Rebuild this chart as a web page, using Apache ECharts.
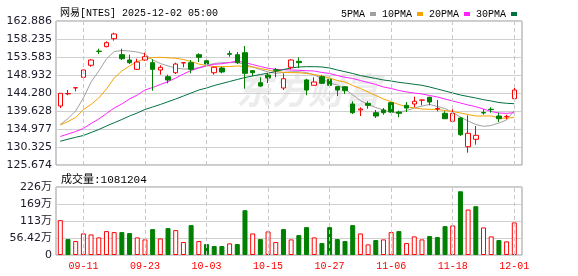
<!DOCTYPE html>
<html>
<head>
<meta charset="utf-8">
<script src="https://cdn.jsdelivr.net/npm/echarts@6.0.0/dist/echarts.min.js"></script>
<style>
  html, body { margin: 0; padding: 0; background: #fff; }
  #chart { width: 578px; height: 276px; }
</style>
</head>
<body>
<div id="chart"></div>
<script>
// trading days shown on the chart
var dates = ['09-08','09-09','09-10','09-11','09-12','09-15','09-16','09-17','09-18','09-19',
  '09-22','09-23','09-24','09-25','09-26','09-29','09-30','10-01','10-02','10-03',
  '10-06','10-07','10-08','10-09','10-10','10-13','10-14','10-15','10-16','10-17',
  '10-20','10-21','10-22','10-23','10-24','10-27','10-28','10-29','10-30','10-31',
  '11-03','11-04','11-05','11-06','11-07','11-10','11-11','11-12','11-13','11-14',
  '11-17','11-18','11-19','11-20','11-21','11-24','11-25','11-26','11-28','12-01']
var dateTicks = ['09-11','09-23','10-03','10-15','10-27','11-06','11-18','12-01']

var open = [140.92,144.05,145.60,148.34,151.44,155.10,156.25,158.31,154.18,152.81,
  150.40,152.81,152.11,150.22,148.49,149.52,152.05,152.11,154.18,152.63,
  149.52,150.74,154.45,154.18,154.69,150.04,146.94,148.93,150.30,145.57,
  150.92,152.47,147.64,146.27,148.49,147.82,145.91,145.91,141.44,139.89,
  141.62,139.19,139.89,141.77,139.37,141.10,141.44,142.42,143.17,140.17,
  139.03,136.97,137.82,130.40,132.32,139.24,140.09,138.34,138.13,142.81]
var close = [144.20,144.15,145.65,150.22,152.81,155.02,157.28,159.53,153.14,152.11,
  152.29,153.66,150.40,150.92,147.64,151.77,152.11,150.40,153.50,151.77,
  150.92,149.71,154.28,152.11,149.37,149.52,146.09,148.16,150.15,147.97,
  152.81,152.11,145.05,147.12,146.79,146.27,145.05,144.87,139.19,140.15,
  141.10,138.34,139.19,139.37,139.03,140.40,142.14,142.47,141.95,140.27,
  137.63,139.03,133.50,133.87,133.35,139.11,139.99,137.63,138.23,145.05]
var low = [140.40,143.69,144.72,147.82,151.08,154.36,156.09,157.80,152.81,151.77,
  150.22,152.63,144.87,149.01,146.79,149.19,150.92,149.37,152.29,151.26,
  149.01,149.37,153.66,151.77,145.39,148.67,145.91,146.86,148.34,145.05,
  150.40,150.74,143.69,146.27,146.61,145.91,143.50,144.02,138.85,138.34,
  140.22,137.82,138.67,139.19,138.00,139.37,140.58,141.10,141.10,139.55,
  137.63,136.97,133.17,128.85,130.92,138.67,139.19,136.79,137.48,142.47]
var high = [144.20,145.05,145.70,150.30,152.99,155.73,157.64,159.86,155.73,154.18,
  153.14,154.69,152.99,151.44,149.01,152.11,152.15,152.81,154.54,152.99,
  151.08,151.08,155.21,154.87,156.43,150.22,148.34,149.45,150.74,149.37,
  152.99,153.50,147.97,148.34,148.85,148.49,146.00,146.09,142.14,140.58,
  142.14,139.89,140.40,141.95,139.71,141.95,143.33,142.52,143.33,142.47,
  139.55,140.07,138.00,138.52,135.75,140.07,140.58,139.19,138.67,146.61]

var ma5 = [136.14,137.69,139.63,142.99,147.12,149.96,153.07,155.00,155.26,155.13,
  154.87,154.36,152.81,151.90,151.26,150.74,150.48,150.48,150.87,151.39,
  151.90,152.11,152.11,152.16,151.64,151.00,150.35,149.71,149.37,149.58,
  149.78,149.78,149.58,148.93,148.03,146.86,146.35,145.31,143.76,142.34,
  141.31,140.53,139.89,139.24,139.19,139.76,140.40,140.92,141.31,140.79,
  140.27,139.24,138.08,137.04,136.14,135.67,135.88,136.53,137.30,139.76]
var ma10 = [136.01,136.91,137.95,140.02,141.31,142.99,145.31,148.16,149.96,151.26,
  152.42,153.07,153.45,153.51,153.38,153.25,152.94,152.42,151.77,151.39,
  151.13,151.08,151.13,151.26,151.13,151.00,150.61,150.22,149.84,149.63,
  149.53,149.53,149.32,149.06,148.67,148.16,147.51,147.12,146.22,145.44,
  144.54,143.63,142.73,142.03,141.31,140.74,140.40,140.14,140.07,140.02,
  139.76,139.50,139.11,138.72,138.34,138.34,138.34,137.82,137.74,138.00]
var ma20 = [133.04,133.68,134.33,135.11,136.40,137.56,138.98,140.40,141.44,142.73,
  143.76,145.05,145.70,146.48,147.20,148.16,149.19,150.09,150.74,151.26,
  151.70,151.85,152.16,152.55,152.11,151.64,151.13,150.66,150.40,150.30,
  150.22,150.15,150.04,149.96,149.58,149.32,148.80,148.34,148.03,147.51,
  146.99,146.48,145.83,145.44,144.93,144.54,144.28,144.02,143.63,143.25,
  142.73,142.21,141.70,141.18,140.74,140.14,139.50,139.11,139.03,139.19]
var ma30 = [131.80,132.34,132.83,133.30,134.07,134.85,135.75,136.60,137.43,138.34,
  139.11,140.02,140.66,141.31,142.03,142.73,143.50,144.28,145.05,145.57,
  146.22,146.73,147.25,147.77,148.28,148.67,149.06,149.40,149.84,150.35,
  150.74,151.00,151.08,151.08,151.00,150.74,150.22,149.78,149.32,148.80,
  148.41,148.03,147.64,147.38,147.04,146.79,146.53,146.27,145.83,145.31,
  144.80,144.28,143.76,143.37,142.99,142.55,142.21,141.82,141.62,141.51]

var volumes = [1156500,528700,462600,716000,683000,584000,793000,760000,760000,727000,
  584000,518000,859000,551000,892000,826000,430000,991000,462600,363000,
  297000,297000,386000,363000,1487000,716000,528700,783000,430000,859000,
  518000,661000,925000,584000,396500,925000,528700,462600,991000,716000,
  353000,495600,518000,760000,793000,396500,617900,518000,628000,594800,
  958000,981000,2115000,1510000,1619000,915000,617900,495600,452700,1081204]

var priceTicks = ['125.674','130.325','134.977','139.628','144.280','148.932','153.583','158.235','162.886']
var volumeTicks = ['0','56.42万','113万','169万','226万']

var priceMin = 125.674, priceMax = 162.886, priceStep = 4.6515
var volMax = 2256800, volStep = 564200

var RED = '#ff0000'
var GREEN = '#008000'
var MONO = '"Liberation Mono", "Noto Sans CJK SC", monospace'

var candles = dates.map(function (d, i) {
  return [open[i], close[i], low[i], high[i]]
})

// volume bar colour follows the day-over-day change of the close
var volumeBars = volumes.map(function (v, i) {
  var up = i === 0 || close[i] >= close[i - 1]
  return {
    value: v,
    itemStyle: { color: up ? '#fff' : GREEN, borderColor: up ? RED : GREEN, borderWidth: 1 }
  }
})

var dashLines = dateTicks.map(function (d) { return { xAxis: d } })
var markLine = {
  silent: true,
  symbol: ['none', 'none'],
  label: { show: false },
  lineStyle: { type: [4, 3], color: '#c8c8c8', width: 1 },
  animation: false,
  data: dashLines
}

var chart = echarts.init(document.getElementById('chart'))

function maSeries(name, data, color) {
  return {
    name: name,
    type: 'line',
    xAxisIndex: 1,
    yAxisIndex: 1,
    data: data,
    color: color,
    showSymbol: false,
    symbol: 'none',
    lineStyle: { color: color, width: 1 },
    z: 3
  }
}

chart.setOption({
  animation: false,
  title: [
    {
      text: '网易[NTES] 2025-12-02 05:00',
      left: 55,
      top: 3,
      textStyle: { fontFamily: MONO, fontSize: 10, fontWeight: 'normal', color: '#000' }
    },
    {
      text: '成交量:' + volumes[volumes.length - 1],
      left: 56,
      top: 170,
      textStyle: { fontFamily: MONO, fontSize: 11, fontWeight: 'normal', color: '#000' }
    }
  ],
  legend: {
    data: ['5PMA', '10PMA', '20PMA', '30PMA'],
    left: 336,
    top: 4,
    align: 'right',
    icon: 'rect',
    itemWidth: 6,
    itemHeight: 4,
    itemGap: 6,
    selectedMode: false,
    textStyle: { fontFamily: MONO, fontSize: 10, color: '#000', padding: [0, 0, 0, 0] }
  },
  graphic: [
    {
      type: 'text',
      left: 236,
      top: 72,
      z: 0,
      silent: true,
      style: {
        text: '东方财富',
        fontSize: 36,
        fontStyle: 'italic',
        fontWeight: 'bold',
        fontFamily: '"Noto Sans CJK SC"',
        fill: '#ececec'
      }
    }
  ],
  grid: [
    { left: 56, right: 56, top: 21, height: 144, show: true, borderColor: '#999', borderWidth: 1, backgroundColor: 'transparent' },
    { left: 56.45, width: 461.7, top: 21, height: 144 },
    { left: 56, right: 56, top: 187, height: 68, show: true, borderColor: '#999', borderWidth: 1, backgroundColor: 'transparent' },
    { left: 56.45, width: 461.7, top: 187, height: 68 }
  ],
  xAxis: [
    { gridIndex: 0, type: 'value', show: false, min: 0, max: 1 },
    {
      gridIndex: 1, type: 'category', data: dates,
      axisLine: { show: false }, axisTick: { show: false }, axisLabel: { show: false }, splitLine: { show: false }
    },
    { gridIndex: 2, type: 'value', show: false, min: 0, max: 1 },
    {
      gridIndex: 3, type: 'category', data: dates,
      axisLine: { show: false }, axisTick: { show: false }, splitLine: { show: false },
      axisLabel: {
        interval: function (index, value) { return dateTicks.indexOf(value) >= 0 },
        margin: 6,
        color: RED,
        fontFamily: MONO,
        fontSize: 10
      }
    }
  ],
  yAxis: [
    {
      gridIndex: 0, type: 'value', min: priceMin, max: priceMax, interval: priceStep,
      axisLine: { show: false }, axisTick: { show: false },
      splitLine: { lineStyle: { color: '#d0d0d0', width: 1 } },
      axisLabel: {
        margin: 4,
        color: '#1a1a2a',
        fontFamily: '"DejaVu Sans"',
        fontSize: 11,
        formatter: function (v) { return priceTicks[Math.round((v - priceMin) / priceStep)] }
      }
    },
    { gridIndex: 1, type: 'value', min: priceMin, max: priceMax, show: false, splitLine: { show: false } },
    {
      gridIndex: 2, type: 'value', min: 0, max: volMax, interval: volStep,
      axisLine: { show: false }, axisTick: { show: false },
      splitLine: { lineStyle: { color: '#d0d0d0', width: 1 } },
      axisLabel: {
        margin: 4,
        color: '#1a1a2a',
        fontFamily: '"DejaVu Sans", "Noto Sans CJK SC"',
        fontSize: 11,
        formatter: function (v) { return volumeTicks[Math.round(v / volStep)] }
      }
    },
    { gridIndex: 3, type: 'value', min: 0, max: volMax, show: false, splitLine: { show: false } }
  ],
  series: [
    {
      name: 'K',
      type: 'candlestick',
      xAxisIndex: 1,
      yAxisIndex: 1,
      data: candles,
      barWidth: 5,
      itemStyle: {
        color: '#fff',
        color0: GREEN,
        borderColor: RED,
        borderColor0: GREEN,
        borderWidth: 1
      },
      markLine: markLine,
      z: 4
    },
    maSeries('5PMA', ma5, '#a0a0a0'),
    maSeries('10PMA', ma10, '#f5a300'),
    maSeries('20PMA', ma20, '#ff22ff'),
    maSeries('30PMA', ma30, '#007040'),
    {
      name: 'VOL',
      type: 'bar',
      xAxisIndex: 3,
      yAxisIndex: 3,
      data: volumeBars,
      barWidth: 5,
      markLine: markLine
    }
  ]
})
</script>
</body>
</html>
